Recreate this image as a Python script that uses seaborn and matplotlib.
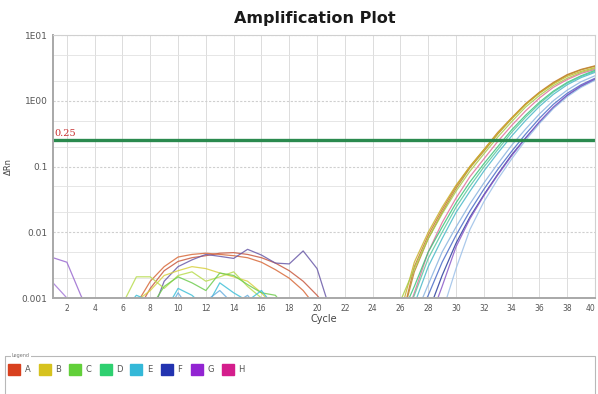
"""Amplification plot (qPCR) redrawn with seaborn."""

import matplotlib.pyplot as plt
import matplotlib.patches as mpatches
import pandas as pd
import seaborn as sns

# cycles of the amplification phase
amp_cycles = list(range(26, 41))

# delta Rn per well, cycles 26..40 (values below 0.001 are off the axis)
a1 = [0.0004, 0.003, 0.009, 0.022, 0.05, 0.1, 0.18, 0.33, 0.55, 0.9, 1.35, 1.9, 2.5, 3.0, 3.4]
a2 = [0.0004, 0.0025, 0.008, 0.02, 0.046, 0.095, 0.17, 0.31, 0.53, 0.88, 1.32, 1.85, 2.45, 2.95, 3.35]
b1 = [0.0006, 0.0035, 0.01, 0.024, 0.052, 0.1, 0.18, 0.32, 0.54, 0.87, 1.3, 1.8, 2.35, 2.8, 3.2]
c1 = [0.0009, 0.0028, 0.008, 0.019, 0.042, 0.085, 0.155, 0.28, 0.48, 0.8, 1.2, 1.7, 2.2, 2.7, 3.1]
h1 = [0.0003, 0.0012, 0.005, 0.014, 0.033, 0.07, 0.13, 0.24, 0.42, 0.7, 1.1, 1.6, 2.1, 2.6, 3.0]
d1 = [0.0005, 0.0015, 0.005, 0.012, 0.028, 0.058, 0.11, 0.2, 0.36, 0.6, 0.95, 1.4, 1.9, 2.4, 2.9]
d2 = [0.0004, 0.0011, 0.004, 0.01, 0.024, 0.05, 0.098, 0.18, 0.33, 0.56, 0.9, 1.35, 1.85, 2.35, 2.8]
e1 = [0.0003, 0.0008, 0.003, 0.008, 0.02, 0.042, 0.085, 0.16, 0.29, 0.5, 0.82, 1.25, 1.75, 2.25, 2.7]
e2 = [0.0003, 0.0005, 0.0016, 0.005, 0.012, 0.027, 0.056, 0.11, 0.21, 0.37, 0.63, 1.0, 1.45, 1.95, 2.4]
f1 = [0.0003, 0.0004, 0.0011, 0.0035, 0.009, 0.021, 0.045, 0.09, 0.17, 0.31, 0.54, 0.88, 1.3, 1.75, 2.2]
f2 = [0.0003, 0.0003, 0.0006, 0.0022, 0.0068, 0.017, 0.037, 0.076, 0.15, 0.27, 0.47, 0.78, 1.2, 1.65, 2.1]
g1 = [0.0003, 0.0003, 0.0004, 0.0015, 0.006, 0.016, 0.036, 0.074, 0.145, 0.27, 0.48, 0.8, 1.22, 1.7, 2.15]
e3 = [0.0003, 0.0003, 0.0003, 0.0006, 0.0028, 0.011, 0.029, 0.064, 0.13, 0.25, 0.45, 0.76, 1.15, 1.6, 2.05]

# baseline noise traces: (first cycle, values)
noise_g3 = (1, [0.0041, 0.0035, 0.0011, 0.0004])
noise_g4 = (1, [0.0017, 0.001, 0.0004])
noise_a1 = (7, [0.0008, 0.0018, 0.003, 0.0042, 0.0046, 0.0048, 0.0046, 0.0044,
                0.0041, 0.0035, 0.0027, 0.002, 0.0013, 0.0007])
noise_a2 = (7, [0.0006, 0.0014, 0.0026, 0.0036, 0.0041, 0.0044, 0.0048, 0.0049,
                0.0046, 0.0041, 0.0034, 0.0026, 0.0018, 0.0011, 0.0006])
noise_g2 = (8, [0.0005, 0.0018, 0.003, 0.0038, 0.0046, 0.0043, 0.004, 0.0055,
                0.0045, 0.0034, 0.0033, 0.0052, 0.0028, 0.0006])
noise_b1 = (7, [0.0009, 0.0013, 0.0022, 0.0026, 0.003, 0.0028, 0.0024, 0.0021,
                0.0018, 0.0012, 0.0007])
noise_b2 = (6, [0.0008, 0.0021, 0.0021, 0.0014, 0.0022, 0.0025, 0.0018, 0.0021,
                0.0025, 0.0015, 0.001, 0.0006])
noise_c1 = (8, [0.0007, 0.0015, 0.0021, 0.0017, 0.0013, 0.0024, 0.0022, 0.0016,
                0.0012, 0.0011, 0.0006])
noise_e1 = (6, [0.0006, 0.0011, 0.0009, 0.0006, 0.0014, 0.0011, 0.0007, 0.0017,
                0.0012, 0.0009, 0.0013, 0.0007])
noise_e2 = (9, [0.0005, 0.0012, 0.0006, 0.0009, 0.0013, 0.0008, 0.0011, 0.0006])

threshold = 0.25
x_ticks = list(range(2, 41, 2))
y_ticks = [0.001, 0.01, 0.1, 1, 10]
y_tick_labels = ['0.001', '0.01', '0.1', '1E00', '1E01']

legend_labels = ['A', 'B', 'C', 'D', 'E', 'F', 'G', 'H']
legend_colors = ['#d8401e', '#d6c21e', '#62d03a', '#2fd070', '#34b8d8',
                 '#2233b0', '#9224d2', '#d41e8c']

curve_colors = {
    'a1': '#c8782a', 'a2': '#b88a2c', 'b1': '#c9b22a', 'c1': '#a8cc48',
    'h1': '#e0709a', 'd1': '#3cc47a', 'd2': '#58c8a0', 'e1': '#4ab8c8',
    'e2': '#8ab4e0', 'f1': '#4a6cc8', 'f2': '#2a3c9c', 'g1': '#8a5ac8',
    'e3': '#9cc0e8',
    'n_g3': '#9a6ad0', 'n_g4': '#a57ad8', 'n_a1': '#d86a3a', 'n_a2': '#c85a40',
    'n_g2': '#6a5aa8', 'n_b1': '#d8d040', 'n_b2': '#b8dc50', 'n_c1': '#70cc50',
    'n_e1': '#40c0d8', 'n_e2': '#6ab0e0',
}

amp = {'a1': a1, 'a2': a2, 'b1': b1, 'c1': c1, 'h1': h1, 'd1': d1, 'd2': d2,
       'e1': e1, 'e2': e2, 'f1': f1, 'f2': f2, 'g1': g1, 'e3': e3}
noise = {'n_g3': noise_g3, 'n_g4': noise_g4, 'n_a1': noise_a1,
         'n_a2': noise_a2, 'n_g2': noise_g2, 'n_b1': noise_b1,
         'n_b2': noise_b2, 'n_c1': noise_c1, 'n_e1': noise_e1,
         'n_e2': noise_e2}

rows = []
for well, vals in amp.items():
    for c, v in zip(amp_cycles, vals):
        rows.append({'well': well, 'cycle': c, 'drn': v})
for well, (start, vals) in noise.items():
    for i, v in enumerate(vals):
        rows.append({'well': well, 'cycle': start + i, 'drn': v})
df = pd.DataFrame(rows)

sns.set_style('white')
plt.rcParams['font.family'] = ['DejaVu Sans']

fig = plt.figure(figsize=(5.98, 3.94), dpi=100)
ax = fig.add_axes([53 / 598, 1 - 298 / 394, 542 / 598, 263 / 394])

# grid first, then the curves
ax.set_yscale('log')
ax.set_xlim(1, 40)
ax.set_ylim(0.001, 10)
ax.set_yticks(y_ticks)
ax.set_yticks([m * 10.0 ** e for e in range(-3, 1) for m in (2, 5)], minor=True)
ax.set_yticklabels(y_tick_labels)
ax.set_xticks(x_ticks)
ax.grid(True, which='major', axis='x', color='#dcdcdc', lw=0.7)
ax.grid(True, which='major', axis='y', color='#cfcfcf', lw=0.8, ls=(0, (2, 1.5)))
ax.grid(True, which='minor', axis='y', color='#e2e2e2', lw=0.6)
ax.set_axisbelow(True)

sns.lineplot(data=df, x='cycle', y='drn', hue='well', palette=curve_colors,
             legend=False, lw=0.9, alpha=0.85, estimator=None, sort=True, ax=ax)

ax.axhline(threshold, color='#2a8a4e', lw=2.4)
ax.text(1.1, threshold * 1.08, '0.25', color='#c83030', fontsize=7,
        family='DejaVu Serif', va='bottom', ha='left')

ax.tick_params(axis='y', which='both', labelsize=6.5, length=2,
               colors='#555555', pad=2)
ax.tick_params(axis='x', which='both', labelsize=5.5, length=2,
               colors='#555555', pad=2)
ax.tick_params(which='minor', length=0)
ax.get_xticklabels()[-1].set_horizontalalignment('right')
for s in ['left', 'bottom']:
    ax.spines[s].set_color('#a8a8a8')
    ax.spines[s].set_linewidth(1.4)
for s in ['top', 'right']:
    ax.spines[s].set_color('#d0d0d0')
    ax.spines[s].set_linewidth(0.8)

fig.text(315 / 598, 1 - 18 / 394, 'Amplification Plot', fontsize=11.5,
         fontweight='bold', ha='center', va='center', color='#1a1a1a')
ax.set_xlabel('Cycle', fontsize=7, color='#444444', labelpad=1)
ax.set_ylabel('ΔRn', fontsize=6, color='#444444', labelpad=6)

# legend panel at the bottom, drawn in pixel coordinates
lax = fig.add_axes([0, 0, 1, 1])
lax.set_xlim(0, 598)
lax.set_ylim(394, 0)
lax.axis('off')
lax.add_patch(mpatches.Rectangle((5, 356), 590, 50, fill=False,
                                 ec='#b8b8b8', lw=0.8))
lax.text(12, 356, 'Legend', fontsize=3.5, color='#777777', va='center',
         bbox=dict(fc='white', ec='none', pad=0.5))
for i, (lab, col) in enumerate(zip(legend_labels, legend_colors)):
    x0 = 8 + i * 30.5
    lax.add_patch(mpatches.Rectangle((x0, 364), 12, 11, color=col))
    lax.text(x0 + 17, 370, lab, fontsize=6, color='#555555', va='center')

fig.savefig('out.png', dpi=100)
